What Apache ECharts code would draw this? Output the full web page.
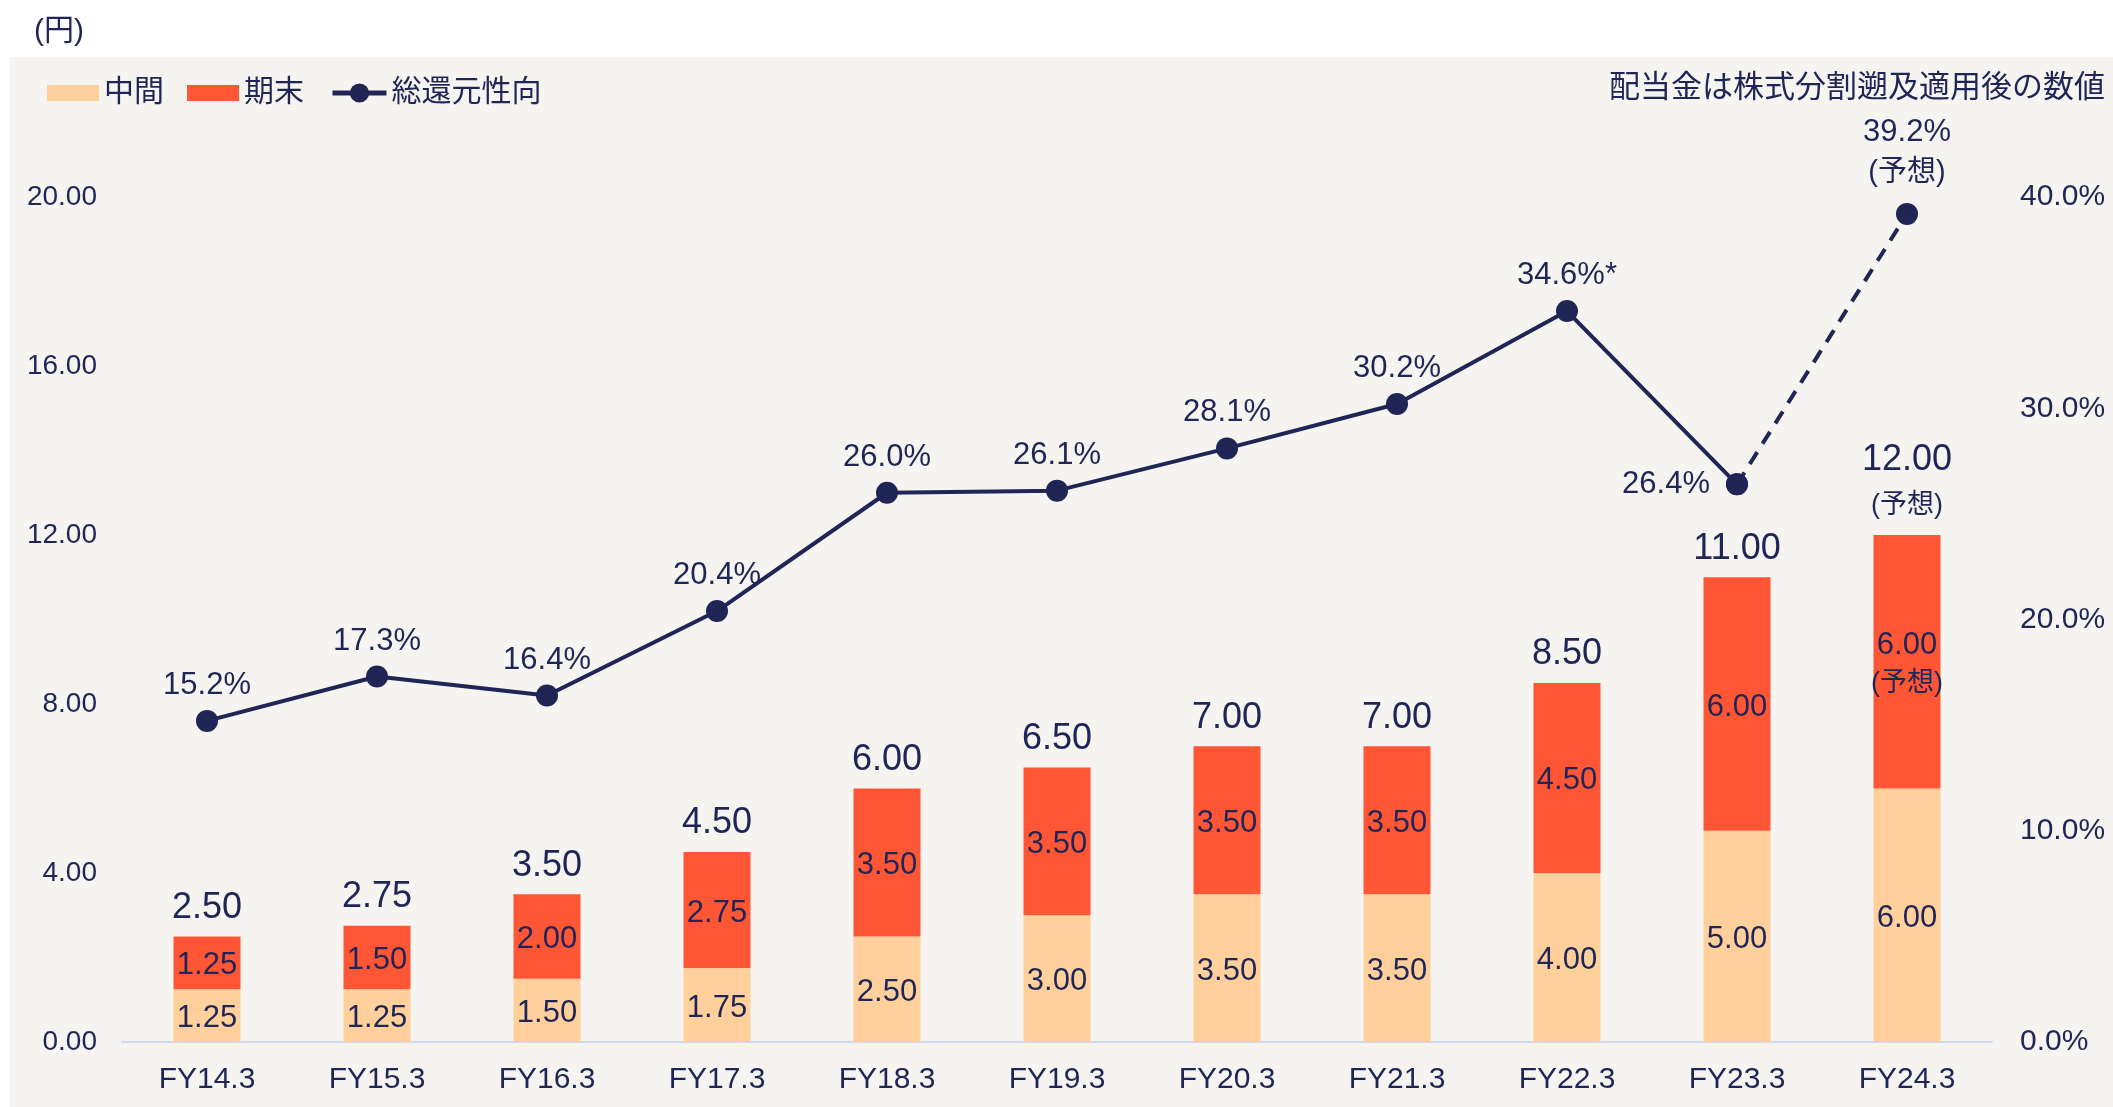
<!DOCTYPE html>
<html>
<head>
<meta charset="utf-8">
<script src="https://cdn.jsdelivr.net/npm/echarts@6/dist/echarts.min.js"></script>
<style>
html,body{margin:0;padding:0;background:#fff;}
#panel{position:absolute;left:10px;top:57px;right:0;bottom:0;background:#F5F4F0;}
#chart{position:absolute;left:0;top:0;width:2113px;height:1107px;}
</style>
</head>
<body>
<div id="panel"></div>
<div id="chart"></div>
<script>
const categories = ['FY14.3','FY15.3','FY16.3','FY17.3','FY18.3','FY19.3','FY20.3','FY21.3','FY22.3','FY23.3','FY24.3'];
const interim = [1.25,1.25,1.50,1.75,2.50,3.00,3.50,3.50,4.00,5.00,6.00];
const yearEnd = [1.25,1.50,2.00,2.75,3.50,3.50,3.50,3.50,4.50,6.00,6.00];
const payout = [15.2,17.3,16.4,20.4,26.0,26.1,28.1,30.2,34.6,26.4,39.2];
const forecastIndex = 10;
const leftTicks = [0,4,8,12,16,20];
const rightTicks = [0,10,20,30,40];

const NAVY = '#1F2555';
const FONT = '"Liberation Sans", Arial, "Noto Sans CJK JP", sans-serif';

const totals = interim.map((v,i)=>+(v+yearEnd[i]).toFixed(2));
const solidLine = payout.map((v,i)=> i < forecastIndex ? v : null);
const dashLine = payout.map((v,i)=> i >= forecastIndex-1 ? v : null);

const chart = echarts.init(document.getElementById('chart'), null, {renderer:'canvas'});
chart.setOption({
  backgroundColor: 'transparent',
  textStyle: {fontFamily: FONT, color: NAVY},
  animation: false,
  title: {
    text: '(円)', left: 29, top: 12,
    textStyle: {fontSize: 30, fontWeight: 'normal', color: NAVY, fontFamily: FONT}
  },
  graphic: [{
    type: 'text', right: 8, top: 73,
    style: {text: '配当金は株式分割遡及適用後の数値', fontSize: 31, fill: NAVY, fontFamily: FONT}
  }],
  legend: [{
    data: ['中間','期末'], left: 42, top: 73, itemWidth: 52, itemHeight: 16,
    itemGap: 23, itemTextGap: 6, icon: 'rect',
    textStyle: {fontSize: 30, color: NAVY, fontFamily: FONT}
  },{
    data: ['総還元性向'], left: 325, top: 73, itemWidth: 54, itemHeight: 24,
    itemTextGap: 6,
    lineStyle: {width: 5, color: NAVY},
    textStyle: {fontSize: 30, color: NAVY, fontFamily: FONT}
  }],
  grid: {left: 122, right: 121, top: 197, bottom: 65, containLabel: false},
  xAxis: {
    type: 'category', data: categories,
    axisLine: {lineStyle: {color: '#D3D6EE', width: 2}},
    axisTick: {show: false},
    axisLabel: {fontSize: 30, color: NAVY, margin: 23, fontFamily: FONT}
  },
  yAxis: [{
    type: 'value', min: 0, max: 20, interval: 4,
    splitLine: {show: false}, axisLine: {show: false}, axisTick: {show: false},
    axisLabel: {fontSize: 28, color: NAVY, margin: 25, formatter: v => v.toFixed(2), fontFamily: FONT}
  },{
    type: 'value', min: 0, max: 40, interval: 10,
    splitLine: {show: false}, axisLine: {show: false}, axisTick: {show: false},
    axisLabel: {fontSize: 30, color: NAVY, margin: 28, formatter: v => v.toFixed(1) + '%', fontFamily: FONT}
  }],
  series: [{
    name: '中間', type: 'bar', stack: 'div', barWidth: 67,
    itemStyle: {color: '#FFD09B'},
    label: {show: true, position: 'inside', offset: [0, 3], fontSize: 31, color: NAVY, fontFamily: FONT,
      formatter: p => p.value.toFixed(2)},
    data: interim, z: 2
  },{
    name: '期末', type: 'bar', stack: 'div', barWidth: 67,
    itemStyle: {color: '#FF5636'},
    label: {show: true, position: 'inside', offset: [0, 3], fontSize: 31, color: NAVY, fontFamily: FONT,
      lineHeight: 38,
      formatter: p => p.dataIndex === forecastIndex
        ? p.value.toFixed(2) + '\n{f|(予想)}' : p.value.toFixed(2),
      rich: {f: {fontSize: 27, color: NAVY, lineHeight: 38, fontFamily: FONT}}},
    data: yearEnd, z: 2
  },{
    name: '合計', type: 'line', yAxisIndex: 0,
    symbol: 'circle', symbolSize: 1, showSymbol: true,
    itemStyle: {color: 'rgba(0,0,0,0)'},
    lineStyle: {width: 0, color: 'rgba(0,0,0,0)'}, silent: true,
    data: totals.map((v,i)=> i === forecastIndex ? {
      value: v,
      label: {distance: 11, formatter: p => '{a2|' + p.value.toFixed(2) + '}\n{b|(予想)}'}
    } : v),
    label: {show: true, position: 'top', distance: 8, color: NAVY,
      formatter: p => '{a|' + p.value.toFixed(2) + '}',
      rich: {
        a: {fontSize: 36, color: NAVY, lineHeight: 40, fontFamily: FONT},
        a2: {fontSize: 36, color: NAVY, lineHeight: 54, fontFamily: FONT},
        b: {fontSize: 27, color: NAVY, lineHeight: 36, fontFamily: FONT}
      }},
    z: 3
  },{
    name: '総還元性向', type: 'line', yAxisIndex: 1,
    data: solidLine.map((v,i)=> i === forecastIndex-1 ? {
      value: v, label: {position: 'left', distance: 16}
    } : v),
    symbol: 'circle', symbolSize: 22,
    itemStyle: {color: NAVY},
    lineStyle: {color: NAVY, width: 4},
    label: {show: true, position: 'top', distance: 9, fontSize: 31, color: NAVY, fontFamily: FONT,
      formatter: p => p.value.toFixed(1) + '%' + (p.dataIndex === 8 ? '*' : '')},
    z: 4
  },{
    name: '総還元性向予想', type: 'line', yAxisIndex: 1,
    data: dashLine.map((v,i)=> i === forecastIndex ? {
      value: v,
      label: {show: true}
    } : v),
    symbol: 'circle', symbolSize: 22,
    itemStyle: {color: NAVY},
    lineStyle: {color: NAVY, width: 4, type: [14, 10]},
    label: {show: false, position: 'top', distance: 12,
      formatter: p => '{a|' + p.value.toFixed(1) + '%}\n{b|(予想)}',
      rich: {
        a: {fontSize: 31, color: NAVY, lineHeight: 44, fontFamily: FONT},
        b: {fontSize: 29, color: NAVY, lineHeight: 36, fontFamily: FONT}
      }},
    z: 4
  }]
});
</script>
</body>
</html>
